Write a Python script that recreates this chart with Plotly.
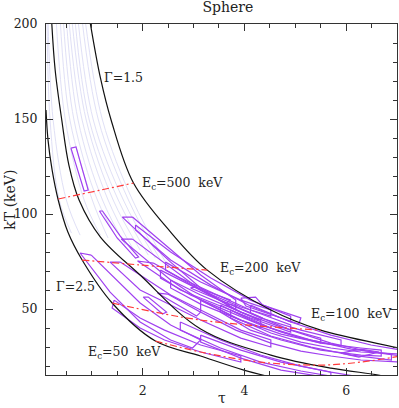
import plotly.graph_objects as go

# black constant-Gamma curves (tau, kT)
tau_g25 = [0.10, 0.14, 0.22, 0.34, 0.53, 0.81, 1.40, 2.25, 3.14, 3.99, 4.52]
kt_g25 = [154.7, 138.9, 123.2, 107.4, 90.5, 75.8, 53.2, 33.2, 25.3, 17.9, 14.2]
tau_g20 = [0.21, 0.28, 0.41, 0.55, 0.75, 1.17, 1.95, 3.14, 4.52, 5.70, 6.63, 6.79]
kt_g20 = [202.0, 175.8, 149.5, 125.8, 107.4, 87.9, 67.9, 39.5, 25.8, 18.9, 15.3, 14.2]
tau_g15 = [0.96, 1.17, 1.38, 1.82, 2.55, 3.27, 4.52, 5.50, 7.02, 7.08]
kt_g15 = [202.1, 171.6, 149.5, 116.3, 90.5, 70.5, 49.5, 38.9, 29.5, 28.9]

# red cut-off energy lines
tau_ec500 = [0.34, 1.17, 1.82]
kt_ec500 = [107.9, 112.6, 116.3]
tau_ec200 = [0.81, 1.95, 3.27]
kt_ec200 = [75.8, 73.2, 70.5]
tau_ec100 = [1.40, 3.14, 5.50]
kt_ec100 = [53.2, 44.2, 38.9]
tau_ec50 = [2.25, 3.14, 4.32, 5.50, 6.29, 7.08]
kt_ec50 = [33.2, 27.4, 22.1, 20.5, 22.1, 25.3]

# faint model tracks
faint_tau = [
    [0.12, 0.18, 0.36, 0.60],
    [0.14, 0.24, 0.50, 0.77],
    [0.30, 0.48, 0.85, 1.17],
    [0.38, 0.57, 1.01, 1.32],
    [0.44, 0.65, 1.11, 1.52],
    [0.50, 0.73, 1.21, 1.66],
    [0.55, 0.81, 1.32, 1.80],
    [0.61, 0.89, 1.42, 1.95],
    [0.67, 0.95, 1.52, 2.11],
    [0.73, 1.03, 1.62, 2.25],
    [0.81, 1.13, 1.72, 2.35],
    [0.87, 1.21, 1.80, 2.45],
]
faint_kt = [
    [202, 149.5, 107.4, 90.0],
    [202, 149.5, 107.4, 88.9],
    [202, 149.5, 107.4, 88.9],
    [202, 149.5, 107.4, 87.4],
    [202, 149.5, 107.4, 86.3],
    [202, 149.5, 107.4, 83.7],
    [202, 149.5, 107.4, 82.1],
    [202, 149.5, 107.4, 81.1],
    [202, 149.5, 107.4, 78.4],
    [202, 149.5, 107.4, 76.8],
    [202, 149.5, 107.4, 75.8],
    [202, 149.5, 107.4, 74.7],
]

# purple confidence contours
band_tau = [
    [0.59, 0.69, 0.93, 0.85],
    [1.15, 1.21, 1.56, 1.92, 1.86, 1.50],
    [1.80, 2.55, 3.14, 3.83, 3.83, 3.14, 2.55, 1.60],
    [1.80, 2.55, 3.14, 3.93, 4.32, 4.32, 3.93, 3.14, 2.55, 1.58],
    [0.99, 1.56, 1.95, 2.55, 3.14, 2.98, 2.55, 1.95, 1.36, 0.77],
    [1.56, 1.95, 2.55, 3.14, 3.93, 4.52, 4.52, 3.93, 3.14, 2.55, 1.95, 1.36],
    [2.21, 2.74, 3.34, 4.12, 4.91, 4.91, 4.12, 3.34, 2.74, 1.90],
    [2.29, 2.49, 3.14, 3.06],
    [2.01, 2.11, 2.47, 2.39],
    [1.44, 1.95, 2.43, 3.14, 3.93, 3.93, 3.14, 2.43, 1.95, 1.40],
    [3.14, 3.83, 4.52, 5.11, 5.70, 6.29, 7.08, 7.08, 6.29, 5.70, 5.11, 4.52, 3.83, 3.14],
    [3.53, 4.12, 4.72, 5.50, 6.29, 6.69, 6.69, 6.29, 5.50, 4.72, 4.12, 3.53],
    [5.90, 6.29, 6.65, 6.25],
    [3.14, 3.93, 4.72, 5.70, 6.29, 5.70, 4.72, 3.93, 3.14],
    [2.74, 3.53, 4.32, 5.11, 5.70, 5.70, 5.11, 4.32, 3.53, 2.74],
    [2.35, 2.94, 3.53, 4.32, 5.11, 5.90, 5.90, 5.11, 4.32, 3.53, 2.94, 2.35],
    [2.55, 3.14, 3.93, 4.72, 5.50, 5.50, 4.72, 3.93, 3.14, 2.55],
    [2.45, 3.14, 3.93, 4.52, 4.52, 3.93, 3.14, 2.45],
    [1.86, 2.55, 3.34, 4.12, 4.91, 4.91, 4.12, 3.34, 2.55, 1.86],
    [2.94, 3.04, 3.73, 3.65],
    [3.63, 3.73, 4.36, 4.28],
    [4.12, 4.91, 5.70, 6.49, 7.08, 7.08, 6.49, 5.70, 4.91, 4.12],
    [3.73, 4.52, 5.31, 6.10, 6.89, 6.89, 6.10, 5.31, 4.52, 3.73],
    [3.93, 4.22, 4.36, 5.11, 5.07, 4.03],
]
band_kt = [
    [134.7, 135.3, 112.6, 112.1],
    [101.6, 101.6, 88.4, 77.4, 76.8, 87.4],
    [98.4, 81.1, 67.9, 54.7, 49.5, 61.1, 74.7, 98.4],
    [86.8, 71.6, 60.0, 48.4, 44.2, 40.0, 44.2, 54.7, 65.3, 86.8],
    [78.4, 63.7, 53.2, 41.6, 33.7, 29.5, 33.7, 43.2, 58.9, 79.5],
    [74.7, 67.9, 57.4, 49.5, 38.9, 33.7, 30.0, 34.7, 44.2, 52.1, 60.0, 74.7],
    [74.2, 66.3, 58.9, 49.5, 41.6, 37.9, 45.3, 53.7, 60.0, 75.3],
    [58.4, 57.9, 48.4, 46.3],
    [56.3, 56.3, 48.4, 47.4],
    [54.7, 45.3, 38.9, 31.1, 25.3, 22.1, 27.4, 33.7, 40.0, 50.5],
    [54.7, 45.3, 37.4, 32.6, 29.5, 27.4, 26.3, 22.1, 23.2, 25.3, 27.9, 32.1, 38.9, 48.4],
    [52.1, 44.2, 37.9, 32.1, 29.5, 28.4, 25.3, 25.8, 28.4, 33.7, 38.9, 48.4],
    [26.8, 28.9, 27.4, 24.7],
    [36.3, 28.4, 22.1, 16.8, 14.2, 13.7, 17.9, 24.2, 32.6],
    [43.2, 33.7, 25.8, 20.0, 16.8, 14.7, 17.4, 22.1, 29.5, 38.9],
    [70.5, 62.6, 54.7, 45.3, 38.9, 33.7, 30.5, 34.7, 41.6, 50.5, 57.4, 66.3],
    [65.3, 57.4, 48.4, 40.5, 34.7, 32.1, 36.8, 44.2, 52.6, 61.1],
    [74.7, 64.2, 54.7, 49.5, 46.3, 51.1, 60.0, 70.5],
    [94.2, 80.0, 66.3, 54.7, 46.3, 43.2, 51.6, 62.6, 75.8, 91.6],
    [61.1, 61.6, 54.7, 53.2],
    [52.1, 52.6, 45.3, 44.2],
    [52.1, 43.2, 36.3, 31.1, 28.4, 25.3, 27.4, 32.1, 38.9, 47.9],
    [49.5, 40.0, 33.7, 28.9, 26.3, 23.2, 25.8, 30.0, 35.8, 45.3],
    [55.8, 56.3, 52.1, 45.3, 42.1, 51.6],
]

FONT = "DejaVu Serif"
INK = "#222222"
PURPLE = "#a040f0"
RED = "#ff3a3a"

fig = go.Figure()

for t, k in zip(faint_tau, faint_kt):
    fig.add_trace(go.Scatter(x=t, y=k, mode="lines", line=dict(color="#e0e0f6", width=1, shape="spline")))

for t, k in zip(band_tau, band_kt):
    fig.add_trace(go.Scatter(x=t + t[:1], y=k + k[:1], mode="lines", line=dict(color=PURPLE, width=1.2)))

for t, k in [(tau_g25, kt_g25), (tau_g20, kt_g20), (tau_g15, kt_g15)]:
    fig.add_trace(go.Scatter(x=t, y=k, mode="lines", line=dict(color="#111111", width=1.2, shape="spline")))

for t, k in [(tau_ec500, kt_ec500), (tau_ec200, kt_ec200), (tau_ec100, kt_ec100), (tau_ec50, kt_ec50)]:
    fig.add_trace(go.Scatter(x=t, y=k, mode="lines",
                             line=dict(color=RED, width=1.2, shape="spline", dash="7px,3px,2px,3px")))

labels = [
    (1.21, 171.6, "Γ=1.5"),
    (0.26, 61.8, "Γ=2.5"),
    (1.94, 116.3, "E<sub>c</sub>=500  keV"),
    (3.48, 71.6, "E<sub>c</sub>=200  keV"),
    (5.27, 47.0, "E<sub>c</sub>=100  keV"),
    (0.88, 27.0, "E<sub>c</sub>=50  keV"),
]
for x, y, s in labels:
    fig.add_annotation(x=x, y=y, text=s, showarrow=False, xanchor="left", yanchor="middle",
                       font=dict(family=FONT, size=12.5, color=INK))

fig.add_annotation(xref="paper", yref="paper", x=0.5, y=-0.066, text="τ", showarrow=False,
                   font=dict(family=FONT, size=14, color=INK), yanchor="middle")
fig.add_annotation(xref="paper", yref="paper", x=-0.105, y=0.5, text="kT (keV)", textangle=-90,
                   showarrow=False, font=dict(family=FONT, size=14, color=INK), xanchor="center")

axis_style = dict(showline=True, linecolor="#333333", linewidth=1, mirror="allticks", ticks="inside",
                  ticklen=7, tickcolor="#333333", showgrid=False, zeroline=False, automargin=False,
                  tickfont=dict(family=FONT, size=12.5, color=INK))

fig.update_xaxes(range=[0.1, 7], tickvals=[2, 4, 6], ticklabelstandoff=4,
                 minor=dict(dtick=0.5, tick0=0, ticks="inside", ticklen=4, tickcolor="#333333"),
                 **axis_style)
fig.update_yaxes(range=[15.3, 200], tickvals=[50, 100, 150, 200], ticklabelstandoff=5,
                 minor=dict(dtick=10, tick0=0, ticks="inside", ticklen=4, tickcolor="#333333"),
                 **axis_style)

fig.update_layout(
    width=399, height=408,
    margin=dict(l=46, r=2, t=24, b=33, autoexpand=False),
    paper_bgcolor="white", plot_bgcolor="white",
    showlegend=False,
    title=dict(text="Sphere", x=0.571, xanchor="center", y=0.983, yanchor="middle",
               font=dict(family=FONT, size=14, color=INK)),
)

# drop the default 8px page margin so the figure sits at the window's corner
fig.write_html("out.html", config={"displayModeBar": False},
               post_script="document.body.style.margin='0';")
